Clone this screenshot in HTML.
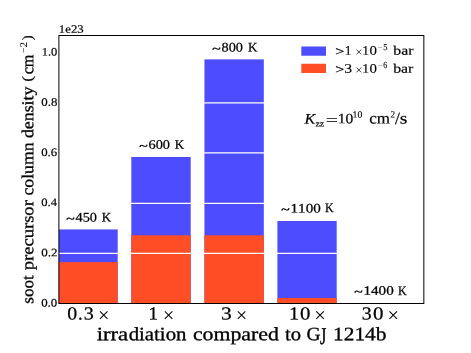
<!DOCTYPE html>
<html>
<head>
<meta charset="utf-8">
<title>soot precursor column density</title>
<style>
html,body{margin:0;padding:0;background:#fff;}
body{width:471px;height:353px;overflow:hidden;}
svg{display:block;will-change:transform;}
text{font-family:"Liberation Serif",serif;fill:#000;font-kerning:none;text-rendering:geometricPrecision;}
</style>
</head>
<body>
<svg width="471" height="353" viewBox="0 0 471 353">
<rect x="0" y="0" width="471" height="353" fill="#ffffff"/>
<g>
<rect x="58.9" y="229.45" width="58.80" height="74.15" fill="#4d4dff"/>
<rect x="58.9" y="262.1" width="58.80" height="41.50" fill="#ff4d26"/>
<rect x="131.3" y="157.0" width="59.40" height="146.60" fill="#4d4dff"/>
<rect x="131.3" y="235.3" width="59.40" height="68.30" fill="#ff4d26"/>
<rect x="204.45" y="59.4" width="59.35" height="244.20" fill="#4d4dff"/>
<rect x="204.45" y="235.3" width="59.35" height="68.30" fill="#ff4d26"/>
<rect x="277.4" y="221.0" width="59.30" height="82.60" fill="#4d4dff"/>
<rect x="277.4" y="298.0" width="59.30" height="5.60" fill="#ff4d26"/>
</g>
<g stroke="#ffffff" stroke-width="1.25">
<line x1="59" x2="424" y1="253.4" y2="253.4"/>
<line x1="59" x2="424" y1="203.3" y2="203.3"/>
<line x1="59" x2="424" y1="152.9" y2="152.9"/>
<line x1="59" x2="424" y1="102.75" y2="102.75"/>
<line x1="59" x2="424" y1="52.6" y2="52.6"/>
</g>
<rect x="58.9" y="35.5" width="364.95" height="268.00" fill="none" stroke="#000" stroke-width="1"/>
<g transform="rotate(0.03 235 176)">
<text x="41.21" y="306.50" font-size="11.4" textLength="16.08" lengthAdjust="spacingAndGlyphs" stroke="#000" stroke-width="0.18">0.0</text>
<text x="41.20" y="256.30" font-size="11.4" textLength="16.32" lengthAdjust="spacingAndGlyphs" stroke="#000" stroke-width="0.18">0.2</text>
<text x="41.22" y="206.20" font-size="11.4" textLength="15.78" lengthAdjust="spacingAndGlyphs" stroke="#000" stroke-width="0.18">0.4</text>
<text x="41.21" y="156.00" font-size="11.4" textLength="15.97" lengthAdjust="spacingAndGlyphs" stroke="#000" stroke-width="0.18">0.6</text>
<text x="41.21" y="105.90" font-size="11.4" textLength="16.08" lengthAdjust="spacingAndGlyphs" stroke="#000" stroke-width="0.18">0.8</text>
<text x="41.60" y="55.70" font-size="11.4" textLength="15.68" lengthAdjust="spacingAndGlyphs" stroke="#000" stroke-width="0.18">1.0</text>
<text x="58.78" y="32.80" font-size="11.4" textLength="24.82" lengthAdjust="spacingAndGlyphs" stroke="#000" stroke-width="0.18">1e23</text>
<text x="67.35" y="319.50" font-size="18.4" textLength="9.91" lengthAdjust="spacingAndGlyphs" stroke="#000" stroke-width="0.25">0</text>
<text x="78.17" y="319.50" font-size="18.4" textLength="4.65" lengthAdjust="spacingAndGlyphs" stroke="#000" stroke-width="0.25">.</text>
<text x="83.74" y="319.50" font-size="18.4" textLength="10.05" lengthAdjust="spacingAndGlyphs" stroke="#000" stroke-width="0.25">3</text>
<path d="M100.05 311.35L107.55 318.85M100.05 318.85L107.55 311.35" stroke="#000" stroke-width="1.0" fill="none"/>
<text x="148.53" y="319.50" font-size="18.4" textLength="9.52" lengthAdjust="spacingAndGlyphs" stroke="#000" stroke-width="0.25">1</text>
<path d="M164.90 311.35L172.40 318.85M164.90 318.85L172.40 311.35" stroke="#000" stroke-width="1.0" fill="none"/>
<text x="221.07" y="319.50" font-size="18.4" textLength="10.77" lengthAdjust="spacingAndGlyphs" stroke="#000" stroke-width="0.25">3</text>
<path d="M237.90 311.35L245.40 318.85M237.90 318.85L245.40 311.35" stroke="#000" stroke-width="1.0" fill="none"/>
<text x="289.13" y="319.50" font-size="18.4" textLength="10.08" lengthAdjust="spacingAndGlyphs" stroke="#000" stroke-width="0.25">1</text>
<text x="300.01" y="319.50" font-size="18.4" textLength="10.38" lengthAdjust="spacingAndGlyphs" stroke="#000" stroke-width="0.25">0</text>
<path d="M316.35 311.35L323.85 318.85M316.35 318.85L323.85 311.35" stroke="#000" stroke-width="1.0" fill="none"/>
<text x="361.95" y="319.50" font-size="18.4" textLength="9.93" lengthAdjust="spacingAndGlyphs" stroke="#000" stroke-width="0.25">3</text>
<text x="373.10" y="319.50" font-size="18.4" textLength="10.50" lengthAdjust="spacingAndGlyphs" stroke="#000" stroke-width="0.25">0</text>
<path d="M389.55 311.35L397.05 318.85M389.55 318.85L397.05 311.35" stroke="#000" stroke-width="1.0" fill="none"/>
<g transform="translate(0,222.35) scale(1,0.8)"><text x="66.27" y="0.00" font-size="13.6" textLength="8.38" lengthAdjust="spacingAndGlyphs" stroke="#000" stroke-width="0.5">~</text></g>
<text x="75.52" y="221.70" font-size="13.0" textLength="21.42" lengthAdjust="spacingAndGlyphs" stroke="#000" stroke-width="0.25">450</text>
<text x="101.82" y="221.70" font-size="13.0" textLength="9.41" lengthAdjust="spacingAndGlyphs" stroke="#000" stroke-width="0.25">K</text>
<g transform="translate(0,149.55) scale(1,0.8)"><text x="139.27" y="0.00" font-size="13.6" textLength="8.38" lengthAdjust="spacingAndGlyphs" stroke="#000" stroke-width="0.5">~</text></g>
<text x="148.49" y="148.90" font-size="13.0" textLength="21.46" lengthAdjust="spacingAndGlyphs" stroke="#000" stroke-width="0.25">600</text>
<text x="174.82" y="148.90" font-size="13.0" textLength="9.41" lengthAdjust="spacingAndGlyphs" stroke="#000" stroke-width="0.25">K</text>
<g transform="translate(0,52.25) scale(1,0.8)"><text x="212.27" y="0.00" font-size="13.6" textLength="8.38" lengthAdjust="spacingAndGlyphs" stroke="#000" stroke-width="0.5">~</text></g>
<text x="221.56" y="51.60" font-size="13.0" textLength="21.39" lengthAdjust="spacingAndGlyphs" stroke="#000" stroke-width="0.25">800</text>
<text x="247.82" y="51.60" font-size="13.0" textLength="9.41" lengthAdjust="spacingAndGlyphs" stroke="#000" stroke-width="0.25">K</text>
<g transform="translate(0,213.05) scale(1,0.8)"><text x="281.27" y="0.00" font-size="13.6" textLength="8.38" lengthAdjust="spacingAndGlyphs" stroke="#000" stroke-width="0.5">~</text></g>
<text x="290.57" y="212.40" font-size="13.0" textLength="30.20" lengthAdjust="spacingAndGlyphs" stroke="#000" stroke-width="0.25">1100</text>
<text x="325.15" y="212.40" font-size="13.0" textLength="8.67" lengthAdjust="spacingAndGlyphs" stroke="#000" stroke-width="0.25">K</text>
<g transform="translate(0,295.25) scale(1,0.8)"><text x="354.27" y="0.00" font-size="13.6" textLength="8.38" lengthAdjust="spacingAndGlyphs" stroke="#000" stroke-width="0.5">~</text></g>
<text x="363.57" y="294.60" font-size="13.0" textLength="30.20" lengthAdjust="spacingAndGlyphs" stroke="#000" stroke-width="0.25">1400</text>
<text x="398.15" y="294.60" font-size="13.0" textLength="8.67" lengthAdjust="spacingAndGlyphs" stroke="#000" stroke-width="0.25">K</text>
<text x="96.72" y="340.30" font-size="19.0" textLength="31.59" lengthAdjust="spacingAndGlyphs" stroke="#000" stroke-width="0.32">irra</text>
<text x="128.75" y="340.30" font-size="19.0" textLength="57.77" lengthAdjust="spacingAndGlyphs" stroke="#000" stroke-width="0.32">diation</text>
<text x="192.97" y="340.30" font-size="19.0" textLength="86.00" lengthAdjust="spacingAndGlyphs" stroke="#000" stroke-width="0.32">compared</text>
<text x="285.15" y="340.30" font-size="19.0" textLength="16.04" lengthAdjust="spacingAndGlyphs" stroke="#000" stroke-width="0.32">to</text>
<text x="306.60" y="340.30" font-size="19.0" textLength="14.11" lengthAdjust="spacingAndGlyphs" stroke="#000" stroke-width="0.32">G</text>
<text x="333.12" y="340.30" font-size="19.0" textLength="53.50" lengthAdjust="spacingAndGlyphs" stroke="#000" stroke-width="0.32">1214b</text>
<g transform="translate(0,343.60) scale(1,1.27)"><text x="320.16" y="0.00" font-size="19.0" textLength="6.28" lengthAdjust="spacingAndGlyphs" stroke="#000" stroke-width="0.32">J</text></g>
<g transform="translate(33.3,303.1) rotate(-90)">
<text x="-0.70" y="0.00" font-size="16.8" textLength="28.40" lengthAdjust="spacingAndGlyphs" stroke="#000" stroke-width="0.3">soot</text>
<text x="32.70" y="0.00" font-size="16.8" textLength="70.16" lengthAdjust="spacingAndGlyphs" stroke="#000" stroke-width="0.3">precursor</text>
<text x="107.43" y="0.00" font-size="16.8" textLength="53.14" lengthAdjust="spacingAndGlyphs" stroke="#000" stroke-width="0.3">column</text>
<text x="164.96" y="0.00" font-size="16.8" textLength="51.41" lengthAdjust="spacingAndGlyphs" stroke="#000" stroke-width="0.3">density</text>
<text x="228.68" y="0.00" font-size="16.8" textLength="19.77" lengthAdjust="spacingAndGlyphs" stroke="#000" stroke-width="0.3">cm</text>
<text x="250.02" y="-6.30" font-size="10.2" textLength="5.45" lengthAdjust="spacingAndGlyphs">−</text>
<text x="255.52" y="-6.30" font-size="10.2" textLength="5.49" lengthAdjust="spacingAndGlyphs" stroke="#000" stroke-width="0.1">2</text>
<text x="221.15" y="-1.45" font-size="14.3" textLength="5.70" lengthAdjust="spacingAndGlyphs" stroke="#000" stroke-width="0.2">(</text>
<text x="262.82" y="-1.45" font-size="14.3" textLength="4.93" lengthAdjust="spacingAndGlyphs" stroke="#000" stroke-width="0.2">)</text>
</g>
<rect x="301.25" y="46.5" width="24.7" height="9.1" fill="#4d4dff"/>
<rect x="301.25" y="63.75" width="24.7" height="9.1" fill="#ff4d26"/>
<text x="335.18" y="55.50" font-size="12.6" textLength="9.09" lengthAdjust="spacingAndGlyphs" stroke="#000" stroke-width="0.28">&gt;</text>
<text x="344.73" y="54.70" font-size="13.0" textLength="6.68" lengthAdjust="spacingAndGlyphs" stroke="#000" stroke-width="0.15">1</text>
<path d="M356.40 49.50L361.20 54.30M356.40 54.30L361.20 49.50" stroke="#000" stroke-width="0.75" fill="none"/>
<text x="362.10" y="54.70" font-size="13.0" textLength="6.82" lengthAdjust="spacingAndGlyphs" stroke="#000" stroke-width="0.15">1</text>
<text x="369.43" y="54.70" font-size="13.0" textLength="7.43" lengthAdjust="spacingAndGlyphs" stroke="#000" stroke-width="0.15">0</text>
<text x="377.11" y="50.05" font-size="8.6" textLength="5.58" lengthAdjust="spacingAndGlyphs">−</text>
<text x="383.11" y="50.05" font-size="9.2" textLength="4.22" lengthAdjust="spacingAndGlyphs" stroke="#000" stroke-width="0.1">5</text>
<text x="393.20" y="54.60" font-size="12.9" textLength="20.14" lengthAdjust="spacingAndGlyphs" stroke="#000" stroke-width="0.18">bar</text>
<text x="335.18" y="73.50" font-size="12.6" textLength="9.09" lengthAdjust="spacingAndGlyphs" stroke="#000" stroke-width="0.28">&gt;</text>
<text x="344.15" y="72.70" font-size="13.0" textLength="7.87" lengthAdjust="spacingAndGlyphs" stroke="#000" stroke-width="0.15">3</text>
<path d="M356.40 67.50L361.20 72.30M356.40 72.30L361.20 67.50" stroke="#000" stroke-width="0.75" fill="none"/>
<text x="362.10" y="72.70" font-size="13.0" textLength="6.82" lengthAdjust="spacingAndGlyphs" stroke="#000" stroke-width="0.15">1</text>
<text x="369.43" y="72.70" font-size="13.0" textLength="7.43" lengthAdjust="spacingAndGlyphs" stroke="#000" stroke-width="0.15">0</text>
<text x="377.11" y="68.05" font-size="8.6" textLength="5.58" lengthAdjust="spacingAndGlyphs">−</text>
<text x="383.26" y="68.05" font-size="9.2" textLength="3.98" lengthAdjust="spacingAndGlyphs" stroke="#000" stroke-width="0.1">6</text>
<text x="393.20" y="72.60" font-size="12.9" textLength="20.14" lengthAdjust="spacingAndGlyphs" stroke="#000" stroke-width="0.18">bar</text>
<text x="304.49" y="123.60" font-size="14.8" textLength="10.72" lengthAdjust="spacingAndGlyphs" font-style="italic" stroke="#000" stroke-width="0.2">K</text>
<text x="315.43" y="126.40" font-size="8.6" textLength="8.84" lengthAdjust="spacingAndGlyphs" stroke="#000" stroke-width="0.22">zz</text>
<text x="325.66" y="124.65" font-size="14.3" textLength="12.30" lengthAdjust="spacingAndGlyphs" stroke="#000" stroke-width="0.1">=</text>
<text x="337.73" y="123.30" font-size="14.3" textLength="15.56" lengthAdjust="spacingAndGlyphs" stroke="#000" stroke-width="0.2">10</text>
<text x="352.54" y="117.65" font-size="9.8" textLength="9.84" lengthAdjust="spacingAndGlyphs" stroke="#000" stroke-width="0.1">10</text>
<text x="369.15" y="123.45" font-size="16.0" textLength="20.82" lengthAdjust="spacingAndGlyphs" stroke="#000" stroke-width="0.2">cm</text>
<text x="390.39" y="117.40" font-size="9.8" textLength="4.61" lengthAdjust="spacingAndGlyphs" stroke="#000" stroke-width="0.1">2</text>
<text x="394.90" y="123.80" font-size="17.0" textLength="4.90" lengthAdjust="spacingAndGlyphs" stroke="#000" stroke-width="0.2">/</text>
<text x="399.70" y="123.45" font-size="16.0" textLength="7.61" lengthAdjust="spacingAndGlyphs" stroke="#000" stroke-width="0.2">s</text>
</g>
</svg>
</body>
</html>
